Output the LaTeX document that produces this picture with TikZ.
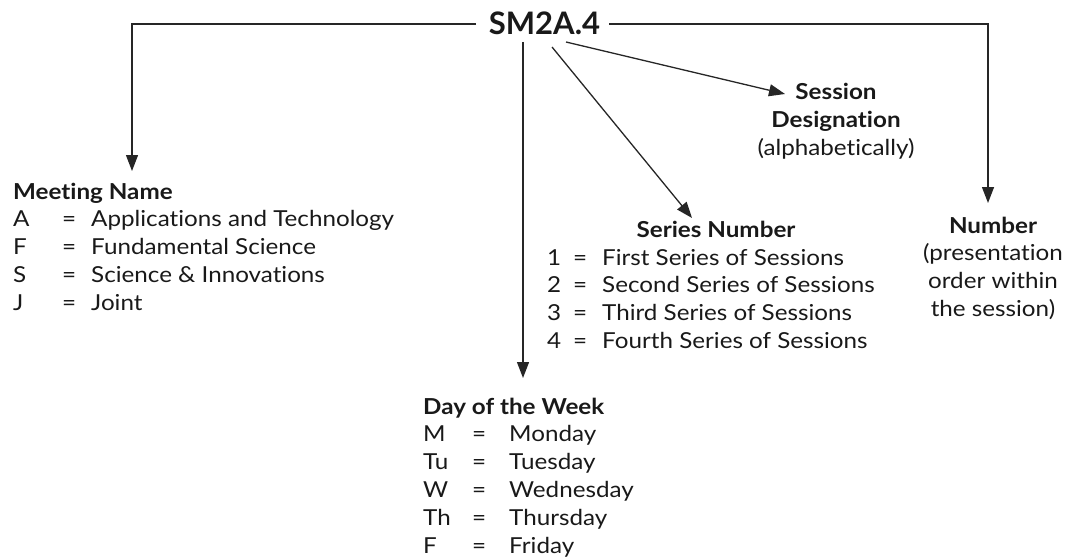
\documentclass[tikz,border=0pt]{standalone}
\usepackage{fontspec}
\setmainfont{Lato}[FakeStretch=1.1,Ligatures=NoCommon]
\newfontfamily\titlefont{Lato}
\usetikzlibrary{arrows.meta}
\begin{document}
\begin{tikzpicture}[x=1pt,y=-1pt,
  conn/.style={line width=1.3pt, draw=black!85},
  arr/.style={conn, -{Triangle[length=16pt,width=12pt]}},
  lbl/.style={inner sep=0pt, font=\fontsize{22}{27.8}\selectfont, text=black!90},
  ]
\useasboundingbox (0,0) rectangle (1067,559);
\node[lbl, anchor=base, font=\titlefont\fontsize{31}{36}\selectfont\bfseries] (t) at (544.5,35) {SM2A.4};

\node[lbl, anchor=base west] (mn) at (13,199) {\begin{tabular}[t]{@{}p{49pt}@{}p{29pt}@{}l@{}}
\multicolumn{3}{@{}l@{}}{\bfseries Meeting Name}\\
A & = & Applications and Technology\\
F & = & Fundamental Science\\
S & = & Science \& Innovations\\
J & = & Joint
\end{tabular}};

\node[lbl, anchor=base west] (dw) at (423,414) {\begin{tabular}[t]{@{}p{49pt}@{}p{37pt}@{}l@{}}
\multicolumn{3}{@{}l@{}}{\bfseries Day of the Week}\\
M & = & Monday\\
Tu & = & Tuesday\\
W & = & Wednesday\\
Th & = & Thursday\\
F & = & Friday
\end{tabular}};

\node[lbl, anchor=base, font=\fontsize{22}{27.8}\selectfont\bfseries] (snh) at (716,237) {Series Number};
\node[lbl, anchor=base west] (sn) at (547,265) {\begin{tabular}[t]{@{}p{26pt}@{}p{29pt}@{}l@{}}
1 & = & First Series of Sessions\\
2 & = & Second Series of Sessions\\
3 & = & Third Series of Sessions\\
4 & = & Fourth Series of Sessions
\end{tabular}};

\node[lbl, anchor=base] (sd) at (836,100) {\begin{tabular}[t]{@{}c@{}}
\bfseries Session\\
\bfseries Designation\\
(alphabetically)
\end{tabular}};

\node[lbl, anchor=base] (nb) at (993,233) {\begin{tabular}[t]{@{}c@{}}
\bfseries Number\\
(presentation\\
order within\\
the session)
\end{tabular}};

\coordinate (tl) at (476,24);
\coordinate (tr) at (609,24);
\coordinate (tb1) at (523,42);
\coordinate (tb2) at (552,47);
\coordinate (tb3) at (566,42);
\coordinate (mnTip) at (132,171);
\coordinate (nbTip) at (988,203);
\coordinate (dwTip) at (523,378);
\coordinate (snTip) at (692,218);
\coordinate (sdTip) at (785,94);

\draw[arr] (tl) -| (mnTip);
\draw[arr] (tr) -| (nbTip);
\draw[arr] (tb1) -- (dwTip);
\draw[arr] (tb2) -- (snTip);
\draw[arr] (tb3) -- (sdTip);
\end{tikzpicture}
\end{document}
